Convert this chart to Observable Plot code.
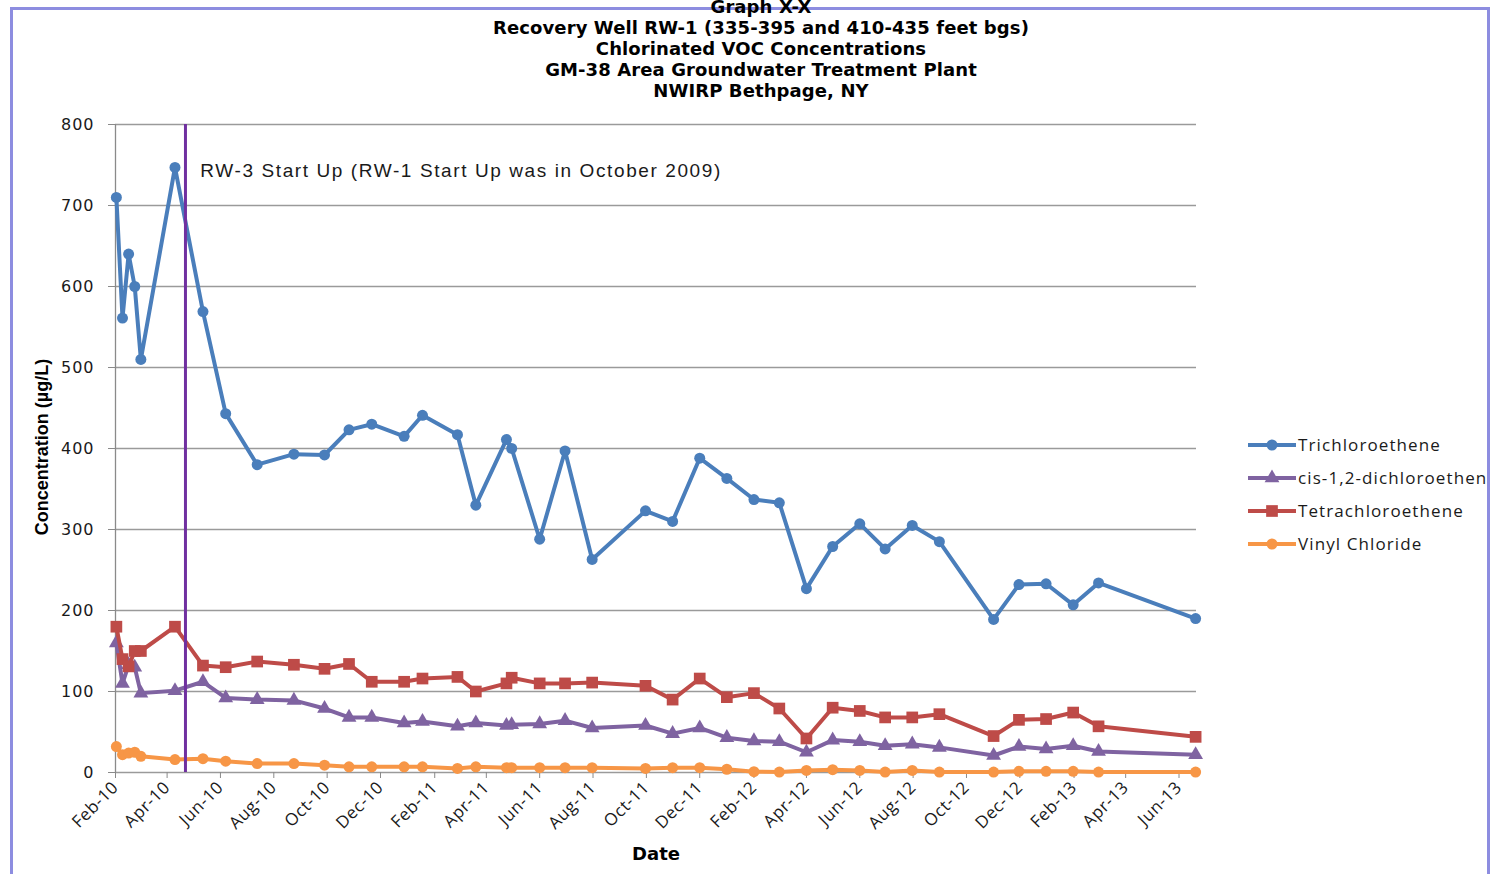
<!DOCTYPE html>
<html>
<head>
<meta charset="utf-8">
<script src="https://cdn.jsdelivr.net/npm/d3@7"></script>
<script src="https://cdn.jsdelivr.net/npm/@observablehq/plot@0.6"></script>
<style>
  html, body { margin: 0; padding: 0; background: #fff; overflow: hidden; width: 1491px; height: 874px; }
  #frame { position: absolute; left: 10px; top: 7px; width: 1474px; height: 900px; border: 3px solid #8d8de0; border-bottom: none; pointer-events: none; z-index: 2; }
  #title { position: absolute; left: 261px; width: 1000px; top: -4px; text-align: center; font-family: "DejaVu Sans", sans-serif; font-weight: bold; font-size: 18px; line-height: 21px; color: #000; z-index: 3; letter-spacing: 0.1px; }
  #chart { position: absolute; left: 0; top: 110px; }
  #ylabel { position: absolute; left: 42px; top: 447px; transform: translate(-50%, -50%) rotate(-90deg); font-family: "Liberation Sans", Arial, sans-serif; font-weight: bold; font-size: 18px; white-space: nowrap; color: #000; }
  #xlabel { position: absolute; left: 656px; top: 853px; transform: translate(-50%, -50%); font-family: "DejaVu Sans", sans-serif; font-weight: bold; font-size: 18px; color: #000; }
  #legend { position: absolute; left: 1246px; top: 428px; width: 241px; overflow: hidden; white-space: nowrap; font-family: "Open Sans", sans-serif; font-size: 17px; color: #1a1a1a; letter-spacing: 1.1px; }
  #legend .row { height: 33px; display: flex; align-items: center; }
  #legend svg { flex: none; }
  g[aria-label="y-axis tick label"] text { font-family: "DejaVu Sans", sans-serif; font-size: 16px; letter-spacing: 1px; fill: #1a1a1a; }
  g[aria-label="x-axis tick label"] text { font-family: "Open Sans", sans-serif; font-size: 17px; letter-spacing: 0.6px; fill: #1a1a1a; }
  g[aria-label="text"] text { font-family: "Liberation Sans", Arial, sans-serif; font-size: 19px; letter-spacing: 1.6px; fill: #1a1a1a; }
</style>
</head>
<body>
<div id="frame"></div>
<div id="title"></div>
<div id="chart"></div>
<div id="ylabel">Concentration (µg/L)</div>
<div id="xlabel">Date</div>
<div id="legend"></div>
<script>
// ---- data ----
const titleLines = ["Graph X-X", "Recovery Well RW-1 (335-395 and 410-435 feet bgs)", "Chlorinated VOC Concentrations", "GM-38 Area Groundwater Treatment Plant", "NWIRP Bethpage, NY"];
const sampleDates = ["2010-02-02","2010-02-09","2010-02-16","2010-02-23","2010-03-02","2010-04-10","2010-05-12","2010-06-07","2010-07-13","2010-08-24",
  "2010-09-28","2010-10-26","2010-11-21","2010-12-28","2011-01-18","2011-02-27","2011-03-20","2011-04-24","2011-04-30","2011-06-01",
  "2011-06-30","2011-07-31","2011-09-30","2011-10-31","2011-12-01","2012-01-01","2012-02-01","2012-03-01","2012-04-01","2012-05-01",
  "2012-06-01","2012-06-30","2012-07-31","2012-08-31","2012-11-01","2012-11-30","2012-12-31","2013-01-31","2013-03-01","2013-06-20"];
const trichloroethene = [710,561,640,600,510,747,569,443,380,393, 392,423,430,415,441,417,330,411,400,288, 397,263,323,310,388,363,337,333,227,279, 307,276,305,285,189,232,233,207,234,190];
const cisDichloroethene = [160,110,133,130,98,101,112,92,90,89, 79,68,68,61,63,57,61,58,59,60, 64,55,58,48,55,43,39,38,25,40, 38,33,35,31,21,32,29,33,26,22];
const tetrachloroethene = [180,140,131,150,150,180,132,130,137,133, 128,134,112,112,116,118,100,110,117,110, 110,111,107,90,116,93,98,79,42,80, 76,68,68,72,45,65,66,74,57,44];
const vinylChloride = [32,22,24,25,20,16,17,14,11,11, 9,7,7,7,7,5,7,6,6,6, 6,6,5,6,6,4,1,0.5,2.5,3.5, 2.5,0.5,2.5,0.5,0.5,1.5,1.5,1.5,0.5,0.5];
const seriesNames = ["Trichloroethene", "cis-1,2-dichloroethene", "Tetrachloroethene", "Vinyl Chloride"];
const seriesValues = [trichloroethene, cisDichloroethene, tetrachloroethene, vinylChloride];
const seriesColors = ["#4a7ebb", "#7f63a1", "#be4b48", "#f79646"];
const seriesSymbols = ["circle", "triangle", "square", "circle"];
const seriesSizes = [5.5, 5.5, 6.6, 5.5];
const yTicks = [0, 100, 200, 300, 400, 500, 600, 700, 800];
const xDomain = ["2010-02-01", "2013-06-21"];
const xTickStart = "2010-02-01", xTickEnd = "2013-07-01";
const startUpDate = "2010-04-22";
const startUpNote = "RW-3 Start Up (RW-1 Start Up was in October 2009)";
const noteDate = "2010-05-09", noteValue = 743;

// ---- title ----
document.getElementById("title").innerHTML = titleLines.map(t => `<div>${t}</div>`).join("");

// ---- chart ----
const parse = d3.utcParse("%Y-%m-%d");
const rows = seriesNames.map((name, i) => sampleDates.map((d, j) => ({date: parse(d), value: seriesValues[i][j], series: name})));
const xTicks = d3.utcMonth.range(parse(xTickStart), parse(xTickEnd), 2);

const marks = [
  Plot.gridY(yTicks, {stroke: "#9a9a9a", strokeOpacity: 1, strokeWidth: 1.3}),
  Plot.axisY(yTicks, {tickSize: 7, tickPadding: 14, stroke: "#8a8a8a", label: null, tickFormat: d => d}),
  Plot.axisX(xTicks, {tickSize: 6, tickPadding: 6, stroke: "#8a8a8a", tickRotate: -45, label: null, tickFormat: d3.utcFormat("%b-%y")}),
  Plot.ruleX([parse(xDomain[0])], {stroke: "#8a8a8a", strokeWidth: 1.3}),
];
rows.forEach((data, i) => {
  marks.push(Plot.line(data, {x: "date", y: "value", stroke: seriesColors[i], strokeWidth: 4, strokeLinejoin: "round"}));
  marks.push(Plot.dot(data, {x: "date", y: "value", fill: seriesColors[i], stroke: "none", symbol: seriesSymbols[i], r: seriesSizes[i]}));
});
marks.push(Plot.ruleX([parse(startUpDate)], {y1: 0, y2: 800, stroke: "#7030a0", strokeWidth: 3}));
marks.push(Plot.text([startUpNote], {x: () => parse(noteDate), y: () => noteValue, text: d => d, textAnchor: "start"}));

const chart = Plot.plot({
  width: 1491,
  height: 764,
  marginLeft: 115,
  marginRight: 295,
  marginTop: 14,
  marginBottom: 102,
  style: {background: "transparent", overflow: "visible"},
  x: {type: "utc", domain: xDomain.map(parse)},
  y: {domain: [0, 800]},
  marks
});
document.getElementById("chart").appendChild(chart);

// ---- legend ----
const legend = d3.select("#legend");
seriesNames.forEach((name, i) => {
  const row = legend.append("div").attr("class", "row");
  const svg = row.append("svg").attr("width", 52).attr("height", 20);
  svg.append("line").attr("x1", 2).attr("x2", 50).attr("y1", 10).attr("y2", 10).attr("stroke", seriesColors[i]).attr("stroke-width", 4);
  svg.append("path").attr("transform", "translate(26,10)").attr("fill", seriesColors[i])
    .attr("d", d3.symbol(seriesSymbols[i] === "circle" ? d3.symbolCircle : seriesSymbols[i] === "square" ? d3.symbolSquare : d3.symbolTriangle, Math.PI * seriesSizes[i] * seriesSizes[i])());
  row.append("span").text(name);
});
</script>
</body>
</html>
